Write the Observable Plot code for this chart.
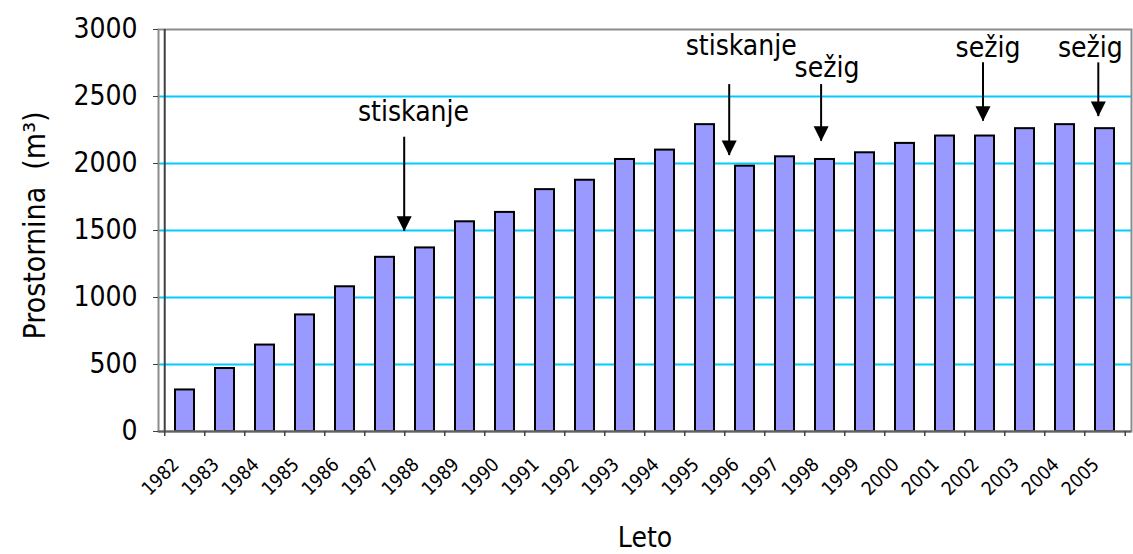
<!DOCTYPE html>
<html>
<head>
<meta charset="utf-8">
<script src="https://cdn.jsdelivr.net/npm/d3@7"></script>
<script src="https://cdn.jsdelivr.net/npm/@observablehq/plot@0.6"></script>
<style>
  html, body { margin: 0; padding: 0; background: #fff; }
</style>
</head>
<body>
<div id="chart"></div>
<script>
// ---- data ----
const years = ["1982","1983","1984","1985","1986","1987","1988","1989","1990","1991","1992","1993",
               "1994","1995","1996","1997","1998","1999","2000","2001","2002","2003","2004","2005"];
const volumes = [310, 470, 645, 870, 1080, 1300, 1370, 1565, 1635, 1805, 1875, 2030,
                 2100, 2290, 1980, 2050, 2030, 2080, 2150, 2205, 2205, 2260, 2290, 2260];
const yTicks = [0, 500, 1000, 1500, 2000, 2500, 3000];
const gridValues = [500, 1000, 1500, 2000, 2500];

const annYears = ["1988", "1996", "1998", "2002", "2005"];
const annLabels = ["stiskanje", "stiskanje", "sežig", "sežig", "sežig"];
const annTextAt = [2320, 2806, 2644, 2798, 2798];
const annArrowFrom = [2196, 2589, 2589, 2751, 2751];
const annArrowTo = [1494, 2059, 2166, 2315, 2350];

const yTitle = "Prostornina\u00a0 (m³)";
const xTitle = "Leto";

// ---- layout ----
const W = 1133, H = 554;
const mT = 29, mB = 123, mL = 158, mR = 2;
const step = (W - mL - mR) / years.length;
const textDx = [-11.5, -3.8, 2, 3, -14.7];
const arrowDx = [-20.8, -15.8, -3.9, -2, -6.7];
const FONT = '"DejaVu Sans Condensed", "Noto Sans", sans-serif';

const data = years.map((y, i) => ({year: y, value: volumes[i]}));

const headSymbol = {
  draw(ctx) {
    const w = 7.5, h = 15;
    ctx.moveTo(-w, -h);
    ctx.lineTo(w, -h);
    ctx.lineTo(0, 0);
    ctx.closePath();
  }
};

const annMarks = annYears.flatMap((yr, i) => {
  const d = [{year: yr, label: annLabels[i], t: annTextAt[i], a1: annArrowFrom[i], a2: annArrowTo[i]}];
  return [
    Plot.text(d, {x: "year", y: "t", text: "label", dx: textDx[i], lineAnchor: "bottom",
                  textAnchor: "middle", fontSize: 28, fill: "black"}),
    Plot.ruleX(d, {x: "year", y1: "a1", y2: "a2", dx: arrowDx[i], stroke: "black", strokeWidth: 2}),
    Plot.dot(d, {x: "year", y: "a2", dx: arrowDx[i], symbol: headSymbol, fill: "black", stroke: "none", r: 5})
  ];
});

const chart = Plot.plot({
  width: W,
  height: H,
  marginTop: mT,
  marginBottom: mB,
  marginLeft: mL,
  marginRight: mR,
  style: {fontFamily: FONT, fontSize: "28px", color: "black", background: "white"},
  x: {type: "band", domain: years, paddingInner: 0.53, paddingOuter: 0.265, label: null},
  y: {domain: [0, 3000], label: null},
  marks: [
    Plot.ruleY(gridValues, {stroke: "#00CCFF", strokeWidth: 2}),
    Plot.barY(data, {x: "year", y: "value", fill: "#9999FF", stroke: "black", strokeWidth: 2}),
    Plot.frame({stroke: "#8C8C8C", strokeWidth: 2}),
    // left axis line
    Plot.ruleX([years[0]], {dx: -step / 2, stroke: "#404040", strokeWidth: 2}),
    // bottom axis line
    Plot.ruleY([0], {stroke: "#606060", strokeWidth: 2}),
    // category boundary ticks
    Plot.ruleX(years, {y1: 0, y2: 0, insetBottom: -5, dx: -step / 2, stroke: "#404040", strokeWidth: 1.5}),
    Plot.ruleX([years[years.length - 1]], {y1: 0, y2: 0, insetBottom: -5, dx: step / 2, stroke: "#404040", strokeWidth: 1.5}),
    Plot.axisY({ticks: yTicks, tickFormat: d3.format("d"), tickSize: 5, tickPadding: 16, fontSize: 28, stroke: "#404040", label: null}),
    Plot.axisX({tickSize: 0, tickRotate: -45, tickPadding: 30, dx: -9, fontSize: 19, label: null}),
    Plot.text([yTitle], {frameAnchor: "left", textAnchor: "middle", rotate: -90, dx: -123, dy: -5, fontSize: 30, fill: "black"}),
    Plot.text([xTitle], {frameAnchor: "bottom", textAnchor: "middle", dy: 115, lineAnchor: "bottom", fontSize: 28, fill: "black"}),
    ...annMarks
  ]
});

document.getElementById("chart").appendChild(chart);
</script>
</body>
</html>
